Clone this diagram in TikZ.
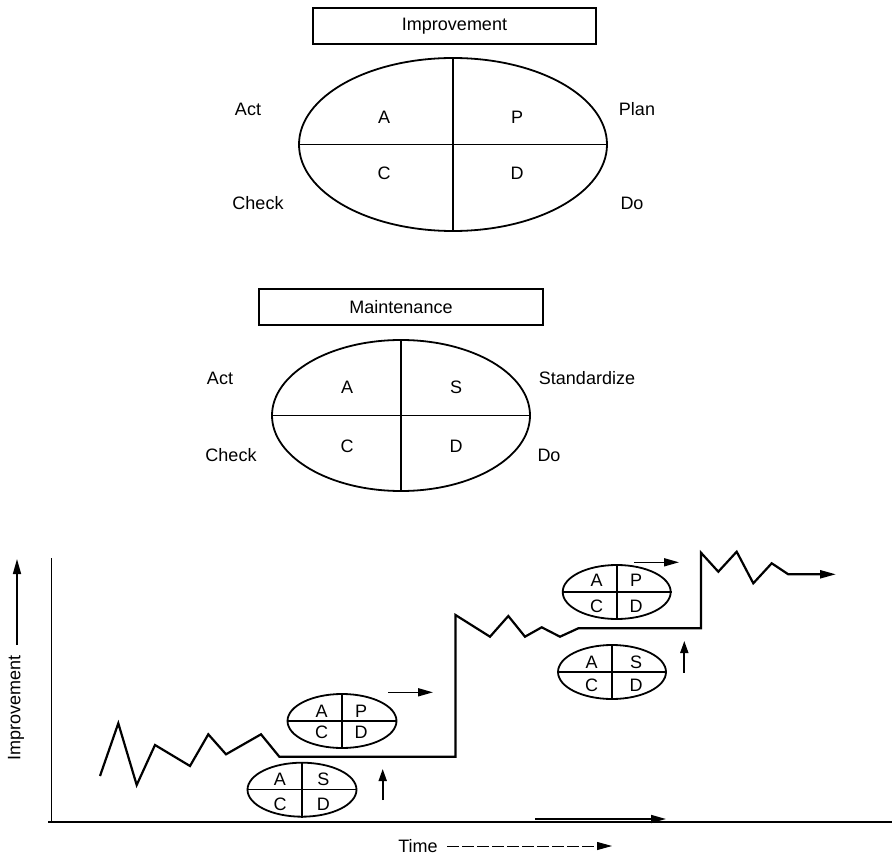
\documentclass[tikz,border=0pt]{standalone}
\usepackage{fontspec}
\setmainfont{Liberation Sans}
\usetikzlibrary{shapes.geometric,arrows.meta}

\begin{document}
\begin{tikzpicture}[x=1pt,y=-1pt,
  lbl/.style={font=\fontsize{18}{20}\selectfont, inner sep=0pt},
  titlebox/.style={draw, line width=1.3pt, inner sep=0pt, font=\fontsize{18}{20}\selectfont},
  cycle/.style={ellipse, draw, line width=1.8pt, inner sep=0pt},
  vsplit/.style={line width=2pt},
  hsplit/.style={line width=1.1pt},
  tip/.style={-{Triangle[length=15pt,width=8pt]}, line width=1.6pt},
  uptip/.style={-{Triangle[length=12pt,width=8pt]}, line width=1.8pt},
  trend/.style={line width=2.2pt, line join=miter},
  axis/.style={line width=1.8pt}
]
\useasboundingbox (0,0) rectangle (892,856);

% ---- Improvement cycle (PDCA) ----
\node[titlebox, minimum width=283pt, minimum height=36pt] (impbox) at (454.5,26) {Improvement};
\node[cycle, minimum width=308pt, minimum height=173pt] (pdca) at (453,144.5) {};
\draw[vsplit] (pdca.north) -- (pdca.south);
\draw[hsplit] (pdca.west) -- (pdca.east);
\node[lbl] (pA) at (384,117) {A};
\node[lbl] (pP) at (517,117) {P};
\node[lbl] (pC) at (384,173) {C};
\node[lbl] (pD) at (517,173) {D};
\node[lbl] (pAct) at (248,109) {Act};
\node[lbl] (pPlan) at (637,109) {Plan};
\node[lbl] (pCheck) at (258,203) {Check};
\node[lbl] (pDo) at (632,203) {Do};

% ---- Maintenance cycle (SDCA) ----
\node[titlebox, minimum width=284pt, minimum height=36pt] (mntbox) at (401,307) {Maintenance};
\node[cycle, minimum width=258pt, minimum height=151pt] (sdca) at (401,415.5) {};
\draw[vsplit] (sdca.north) -- (sdca.south);
\draw[hsplit] (sdca.west) -- (sdca.east);
\node[lbl] (sA) at (347,387) {A};
\node[lbl] (sS) at (456,387) {S};
\node[lbl] (sC) at (347,446) {C};
\node[lbl] (sD) at (456,446) {D};
\node[lbl] (sAct) at (220,378) {Act};
\node[lbl] (sStd) at (587,378) {Standardize};
\node[lbl] (sCheck) at (231,455) {Check};
\node[lbl] (sDo) at (549,455) {Do};

% ---- Axes ----
\coordinate (ytop) at (51.5,558);
\coordinate (orig) at (51.5,822);
\coordinate (xend) at (892,822);
\coordinate (xstart) at (48,822);
\draw[axis] (ytop) -- (orig);
\draw[axis] (xstart) -- (xend);

\node[lbl, rotate=90] (ylab) at (16,708) {Improvement};
\coordinate (yarrA) at (17,645);
\coordinate (yarrB) at (17,559);
\draw[tip] (yarrA) -- (yarrB);

\node[lbl] (xlab) at (418,846) {Time};
\coordinate (xarrA) at (447,846);
\coordinate (xarrB) at (612,846);
\draw[tip, line width=1pt, dash pattern=on 12pt off 3pt] (xarrA) -- (xarrB);

\coordinate (axarrA) at (535,819);
\coordinate (axarrB) at (666,819);
\draw[tip] (axarrA) -- (axarrB);

% ---- Improvement trend ----
\draw[trend, -{Triangle[length=16pt,width=8pt]}]
  (100,776) -- (118.3,723.3) -- (136.7,785) -- (155,745) -- (190,766)
  -- (208.3,734.3) -- (226,754.3) -- (261,734.3) -- (279.3,756.7)
  -- (455.5,756.7) -- (455.5,615) -- (490,636.7) -- (508.3,616)
  -- (525,636.7) -- (541.7,627.3) -- (560,636.7) -- (578.3,628.3)
  -- (701,628.3) -- (701,552.7) -- (718.3,571.7) -- (736.7,551.7)
  -- (753.3,583.3) -- (771.7,563.3) -- (788.3,574.3) -- (836,574.3);

% ---- Small cycles, first step ----
\node[cycle, minimum width=109pt, minimum height=54pt] (p1) at (342,721) {};
\draw[vsplit] (p1.north) -- (p1.south);
\draw[hsplit] (p1.west) -- (p1.east);
\node[lbl] (p1A) at (321.7,711.7) {A};
\node[lbl] (p1P) at (361,711.7) {P};
\node[lbl] (p1C) at (321.7,732.3) {C};
\node[lbl] (p1D) at (361,732.3) {D};
\coordinate (p1arrA) at (388,692.3);
\coordinate (p1arrB) at (433,692.3);
\draw[tip] (p1arrA) -- (p1arrB);

\node[cycle, minimum width=109pt, minimum height=54pt] (s1) at (302,789.7) {};
\draw[vsplit] (s1.north) -- (s1.south);
\draw[hsplit] (s1.west) -- (s1.east);
\node[lbl] (s1A) at (280,779.3) {A};
\node[lbl] (s1S) at (323.3,779.3) {S};
\node[lbl] (s1C) at (280,804) {C};
\node[lbl] (s1D) at (323.3,804) {D};
\coordinate (s1arrA) at (382.7,800);
\coordinate (s1arrB) at (382.7,769);
\draw[uptip] (s1arrA) -- (s1arrB);

% ---- Small cycles, second step ----
\node[cycle, minimum width=108pt, minimum height=54pt] (p2) at (616.7,592) {};
\draw[vsplit] (p2.north) -- (p2.south);
\draw[hsplit] (p2.west) -- (p2.east);
\node[lbl] (p2A) at (596.7,580.7) {A};
\node[lbl] (p2P) at (636,580.7) {P};
\node[lbl] (p2C) at (596.7,606) {C};
\node[lbl] (p2D) at (636,606) {D};
\coordinate (p2arrA) at (634.3,562.3);
\coordinate (p2arrB) at (679,562.3);
\draw[tip] (p2arrA) -- (p2arrB);

\node[cycle, minimum width=108pt, minimum height=54pt] (s2) at (612,672) {};
\draw[vsplit] (s2.north) -- (s2.south);
\draw[hsplit] (s2.west) -- (s2.east);
\node[lbl] (s2A) at (591.7,662.7) {A};
\node[lbl] (s2S) at (636,662.7) {S};
\node[lbl] (s2C) at (591.7,685) {C};
\node[lbl] (s2D) at (636,685) {D};
\coordinate (s2arrA) at (684.3,672.7);
\coordinate (s2arrB) at (684.3,641);
\draw[uptip] (s2arrA) -- (s2arrB);
\end{tikzpicture}
\end{document}
